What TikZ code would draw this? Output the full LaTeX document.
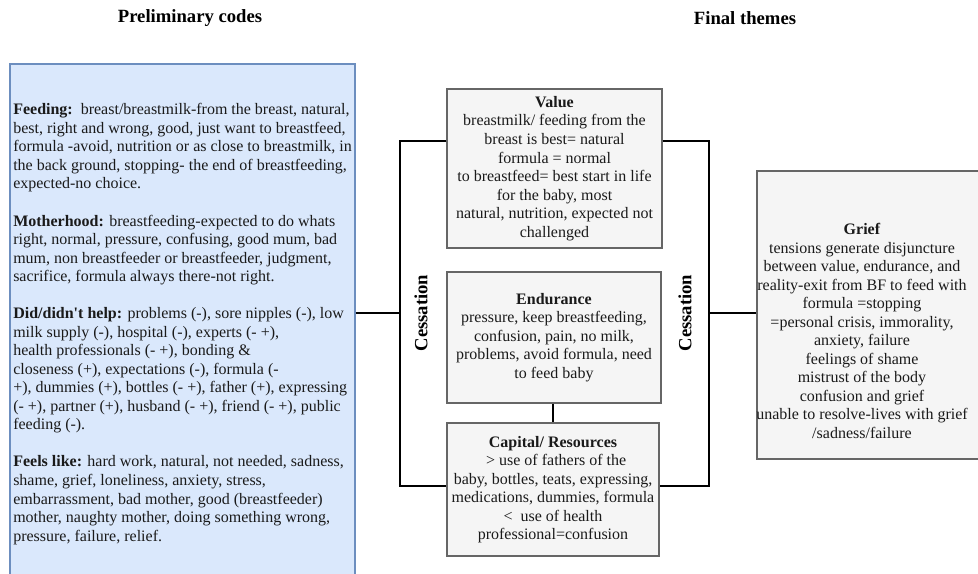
\documentclass[tikz,border=0pt]{standalone}
\usepackage{fontspec}
\setmainfont{Liberation Serif}
\definecolor{bluefill}{HTML}{DAE8FC}
\definecolor{bluedraw}{HTML}{6C8EBF}
\definecolor{grayfill}{HTML}{F5F5F5}
\definecolor{graydraw}{HTML}{666666}
\definecolor{txt}{HTML}{1A1A1A}
\tikzset{
  bodyfont/.style={font=\fontsize{12}{13.9}\selectfont, text=txt},
  titlefont/.style={font=\fontsize{14}{16}\selectfont\bfseries, text=black},
  bluebox/.style={draw=bluedraw, fill=bluefill, line width=0.8pt, inner sep=0pt},
  graybox/.style={draw=graydraw, fill=grayfill, line width=0.8pt, bodyfont, align=center, inner sep=0pt},
  conn/.style={draw=black, line width=1.7pt},
  sidelabel/.style={titlefont, rotate=90, inner sep=0pt}
}
\begin{document}
\begin{tikzpicture}[x=0.75pt, y=-0.75pt]
\useasboundingbox (0,0) rectangle (978,574);
\clip (0,0) rectangle (978,574);
\fill[white] (0,0) rectangle (978,574);

% titles
\node[titlefont] (t1) at (190,18) {Preliminary codes};
\node[titlefont] (t2) at (745,18) {Final themes};

% preliminary codes box
\node[bluebox, minimum width=258.75pt, minimum height=390pt] (codes) at (182.5,324) {};
\node[bodyfont, align=left, inner sep=0pt, anchor=west] (codestext) at (13,324) {%
\textbf{Feeding:}\ \ breast/breastmilk-from the breast, natural,\\
best, right and wrong, good, just want to breastfeed,\\
formula -avoid, nutrition or as close to breastmilk, in\\
the back ground, stopping- the end of breastfeeding,\\
expected-no choice.\\[13.9pt]
\textbf{Motherhood:} breastfeeding-expected to do whats\\
right, normal, pressure, confusing, good mum, bad\\
mum, non breastfeeder or breastfeeder, judgment,\\
sacrifice, formula always there-not right.\\[13.9pt]
\textbf{Did/didn\textquotesingle t help:} problems (-), sore nipples (-), low\\
milk supply (-), hospital (-), experts (- +),\\
health professionals (- +), bonding \&\\
closeness (+), expectations (-), formula (-\\
+), dummies (+), bottles (- +), father (+), expressing\\
(- +), partner (+), husband (- +), friend (- +), public\\
feeding (-).\\[13.9pt]
\textbf{Feels like:} hard work, natural, not needed, sadness,\\
shame, grief, loneliness, anxiety, stress,\\
embarrassment, bad mother, good (breastfeeder)\\
mother, naughty mother, doing something wrong,\\
pressure, failure, relief.};

% theme boxes
\node[graybox, minimum width=161.25pt, minimum height=119.25pt] (value) at (554.5,168.5) {%
\textbf{Value}\\
breastmilk/ feeding from the\\
breast is best= natural\\
formula = normal\\
to breastfeed= best start in life\\
for the baby, most\\
natural, nutrition, expected not\\
challenged};

\node[graybox, minimum width=160.5pt, minimum height=98.25pt] (endurance) at (554,337.5) {%
\textbf{Endurance}\\
pressure, keep breastfeeding,\\
confusion, pain, no milk,\\
problems, avoid formula, need\\
to feed baby};

\node[graybox, minimum width=159pt, minimum height=99.75pt] (capital) at (553,489.5) {%
\textbf{Capital/ Resources}\\
\hspace*{0.4em}> use of fathers of the\\
baby, bottles, teats, expressing,\\
medications, dummies, formula\\
<\ \ use of health\\
professional=confusion};

\node[graybox, minimum width=174.75pt, minimum height=216pt] (grief) at (873.5,315) {};
\node[bodyfont, align=center, inner sep=0pt] (grieftext) at (862,331) {%
\textbf{Grief}\\
tensions generate disjuncture\\
between value, endurance, and\\
reality-exit from BF to feed with\\
formula =stopping\\
=personal crisis, immorality,\\
anxiety, failure\\
feelings of shame\\
mistrust of the body\\
confusion and grief\\
unable to resolve-lives with grief\\
/sadness/failure};

% bracket coordinates
\coordinate (lt) at (400,141);
\coordinate (lm) at (400,313);
\coordinate (lb) at (400,486);
\coordinate (rt) at (709,141);
\coordinate (rm) at (709,313);
\coordinate (rb) at (709,486);

% connectors
\draw[conn] (lm -| codes.east) -- (lm);
\draw[conn] (lt -| value.west) -- (lt) -- (lb) -- (lb -| capital.west);
\draw[conn] (rt -| value.east) -- (rt) -- (rb) -- (rb -| capital.east);
\draw[conn] (rm) -- (rm -| grief.west);
\draw[conn] (capital.north |- endurance.south) -- (capital.north);

% cessation labels
\node[sidelabel] (cl) at (421,313) {Cessation};
\node[sidelabel] (cr) at (685,313) {Cessation};
\end{tikzpicture}
\end{document}
